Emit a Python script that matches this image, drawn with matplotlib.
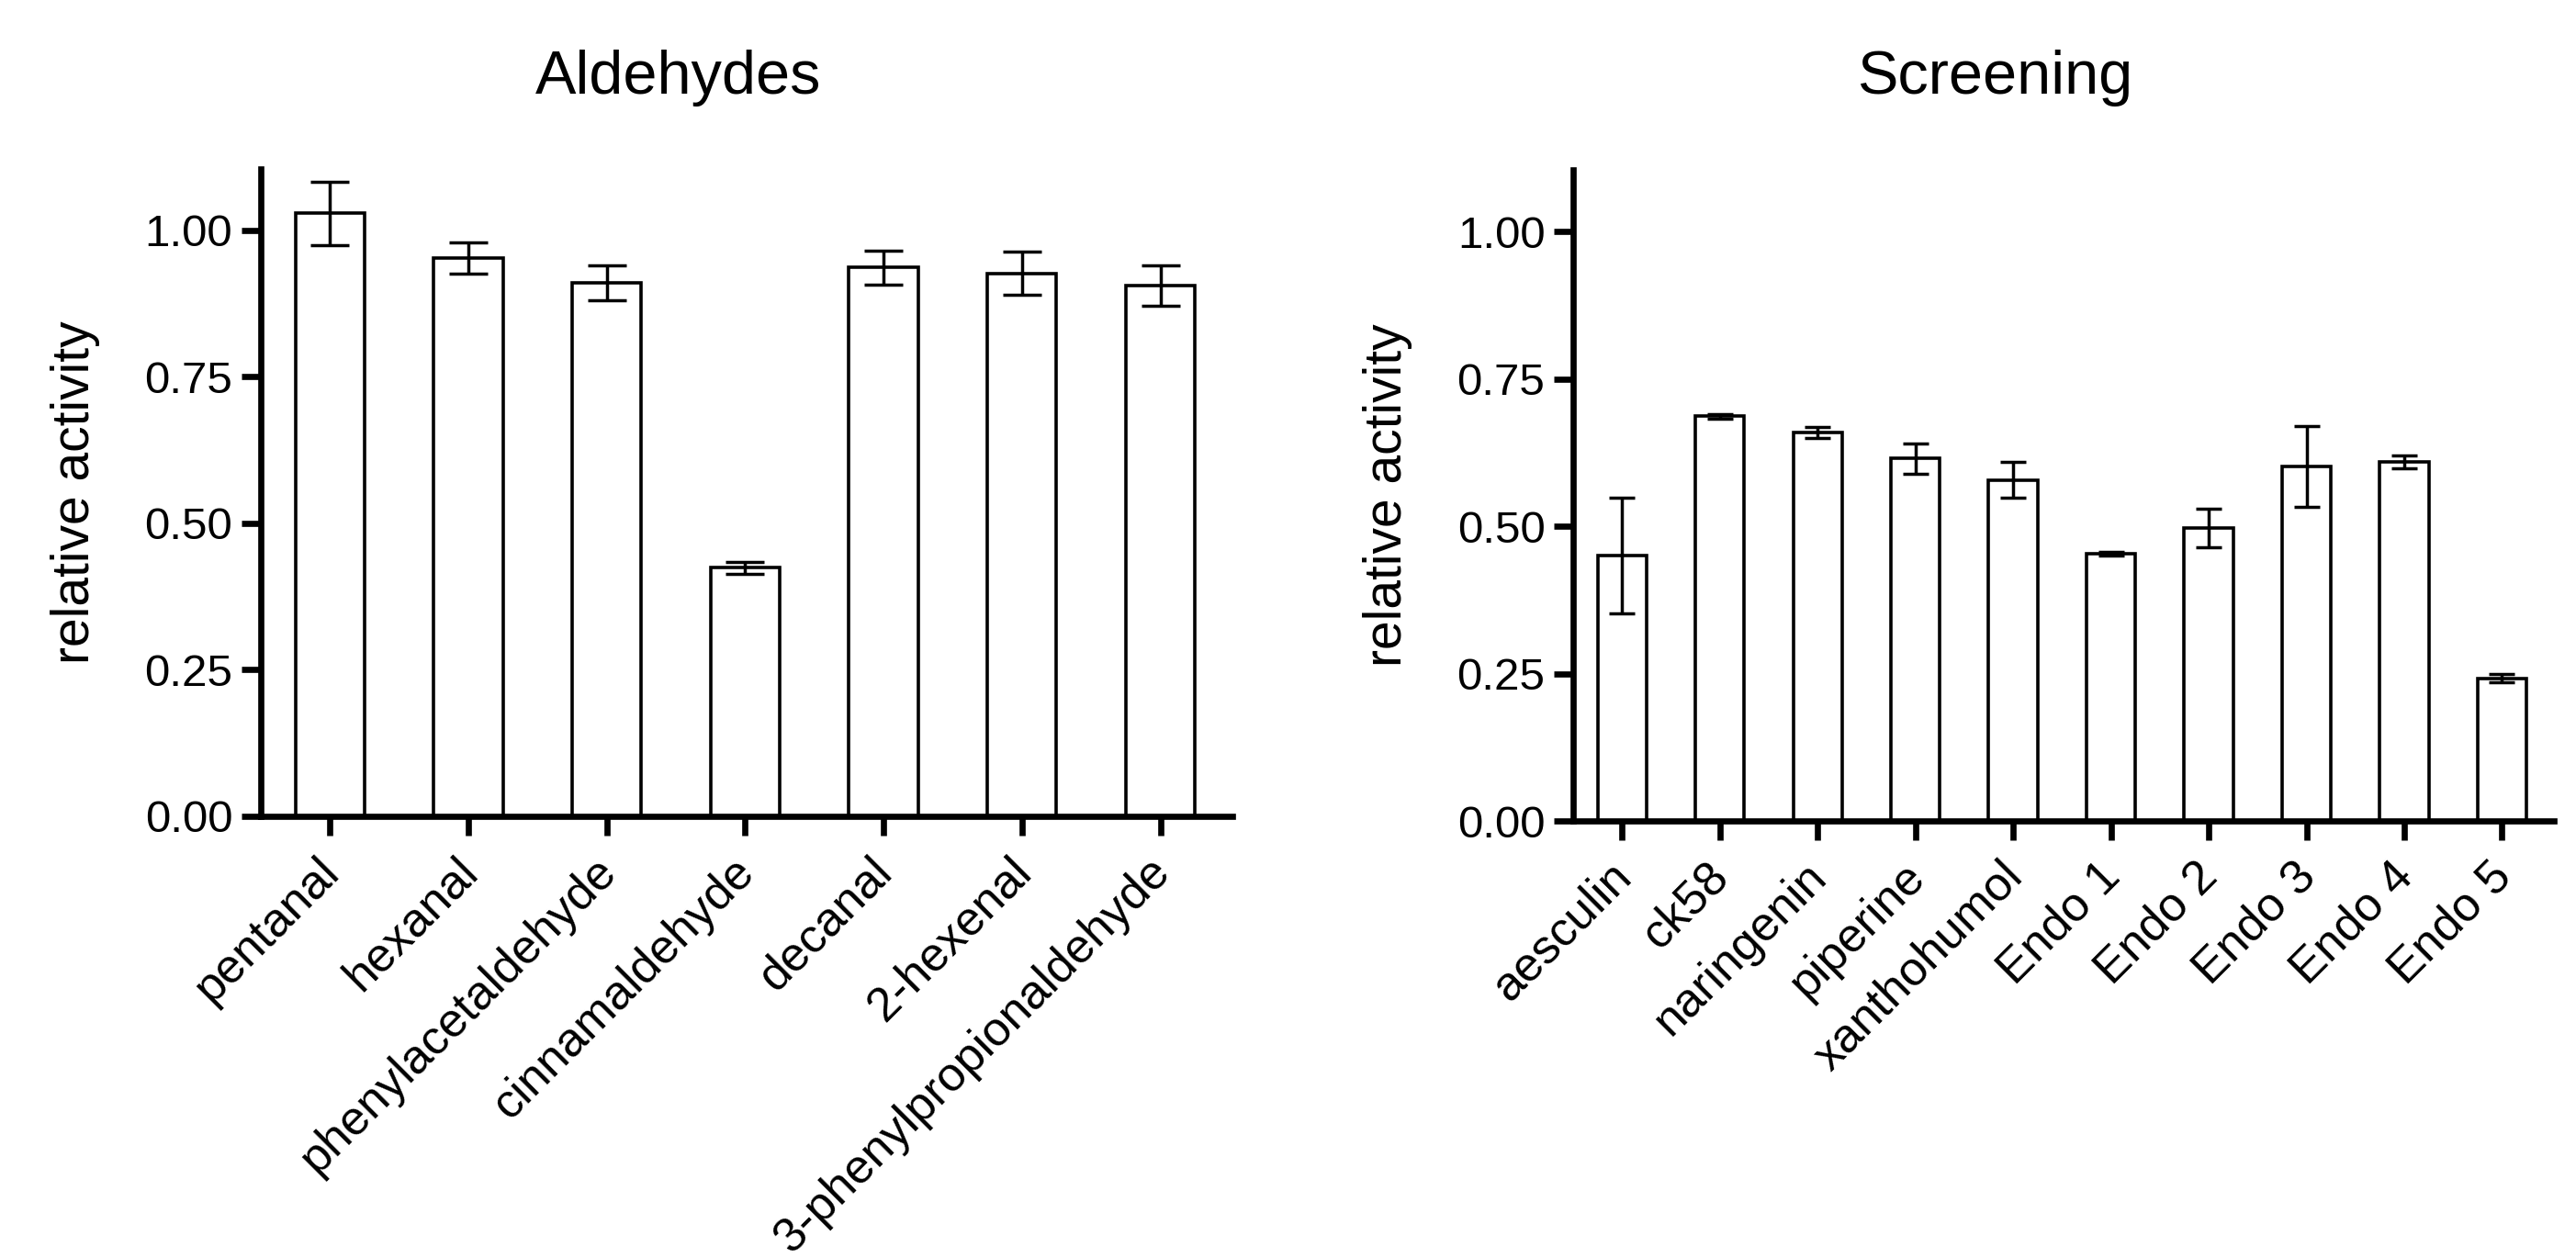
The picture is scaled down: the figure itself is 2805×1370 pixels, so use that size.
import matplotlib
matplotlib.use("Agg")
import matplotlib.pyplot as plt
import matplotlib.transforms as mtransforms
import numpy as np

plt.rcParams['font.family'] = ['Liberation Sans', 'DejaVu Sans']

# Aldehydes panel
ald_names = ["pentanal", "hexanal", "phenylacetaldehyde", "cinnamaldehyde",
             "decanal", "2-hexenal", "3-phenylpropionaldehyde"]
ald_mean = [1.029, 0.953, 0.911, 0.424, 0.937, 0.927, 0.906]
ald_err = [0.054, 0.026, 0.030, 0.010, 0.029, 0.037, 0.034]

# Screening panel
scr_names = ["aesculin", "ck58", "naringenin", "piperine", "xanthohumol",
             "Endo 1", "Endo 2", "Endo 3", "Endo 4", "Endo 5"]
scr_mean = [0.450, 0.687, 0.659, 0.615, 0.579, 0.454, 0.497, 0.602, 0.609, 0.242]
scr_err = [0.098, 0.004, 0.009, 0.025, 0.031, 0.003, 0.033, 0.069, 0.011, 0.007]

yticks = [0.0, 0.25, 0.5, 0.75, 1.0]

fig = plt.figure(figsize=(28.05, 13.70), dpi=100)
ax1 = fig.add_axes([0.1012, 0.3511, 0.3772, 0.5146])
ax2 = fig.add_axes([0.6107, 0.3474, 0.3807, 0.5175])

# small nudge to the right for rotated tick labels
shift = mtransforms.ScaledTranslation(0.12, 0, fig.dpi_scale_trans)


def draw_panel(ax, names, mean, err, capsize, xmax):
    x = np.arange(len(names))
    ax.bar(x, mean, width=0.5, color="white", edgecolor="black", linewidth=2.6, zorder=2)
    ax.errorbar(x, mean, yerr=err, fmt="none", ecolor="black", elinewidth=2.5,
                capsize=capsize, capthick=2.5, zorder=3)
    ax.set_xlim(-0.5, xmax)
    ax.set_ylim(0, 1.105)
    ax.set_yticks(yticks)
    ax.set_yticklabels([f"{v:.2f}" for v in yticks])
    ax.set_xticks(x)
    ax.spines["top"].set_visible(False)
    ax.spines["right"].set_visible(False)
    ax.spines["left"].set_linewidth(4.8)
    ax.spines["bottom"].set_linewidth(4.8)
    ax.tick_params(axis="both", width=4.8, length=15)
    ax.tick_params(axis="y", pad=7, labelsize=35.5)
    ax.tick_params(axis="x", pad=30, labelsize=37.5)
    ax.set_xticklabels(names, rotation=45, ha="right", va="baseline", rotation_mode="anchor")
    for lab in ax.get_xticklabels():
        lab.set_transform(lab.get_transform() + shift)
    ax.set_ylabel("relative activity", fontsize=41)
    ax.yaxis.set_label_coords(-175 / (ax.get_position().width * 2805), 0.5)


draw_panel(ax1, ald_names, ald_mean, ald_err, 14.8, len(ald_names) - 0.48)
draw_panel(ax2, scr_names, scr_mean, scr_err, 10.4, len(scr_names) - 0.47)

fig.text(739 / 2805, 1 - 102 / 1370, "Aldehydes", fontsize=48, ha="center", va="baseline")
fig.text(2172 / 2805, 1 - 102 / 1370, "Screening", fontsize=48, ha="center", va="baseline")

fig.savefig("out.png", dpi=100, facecolor="white")
